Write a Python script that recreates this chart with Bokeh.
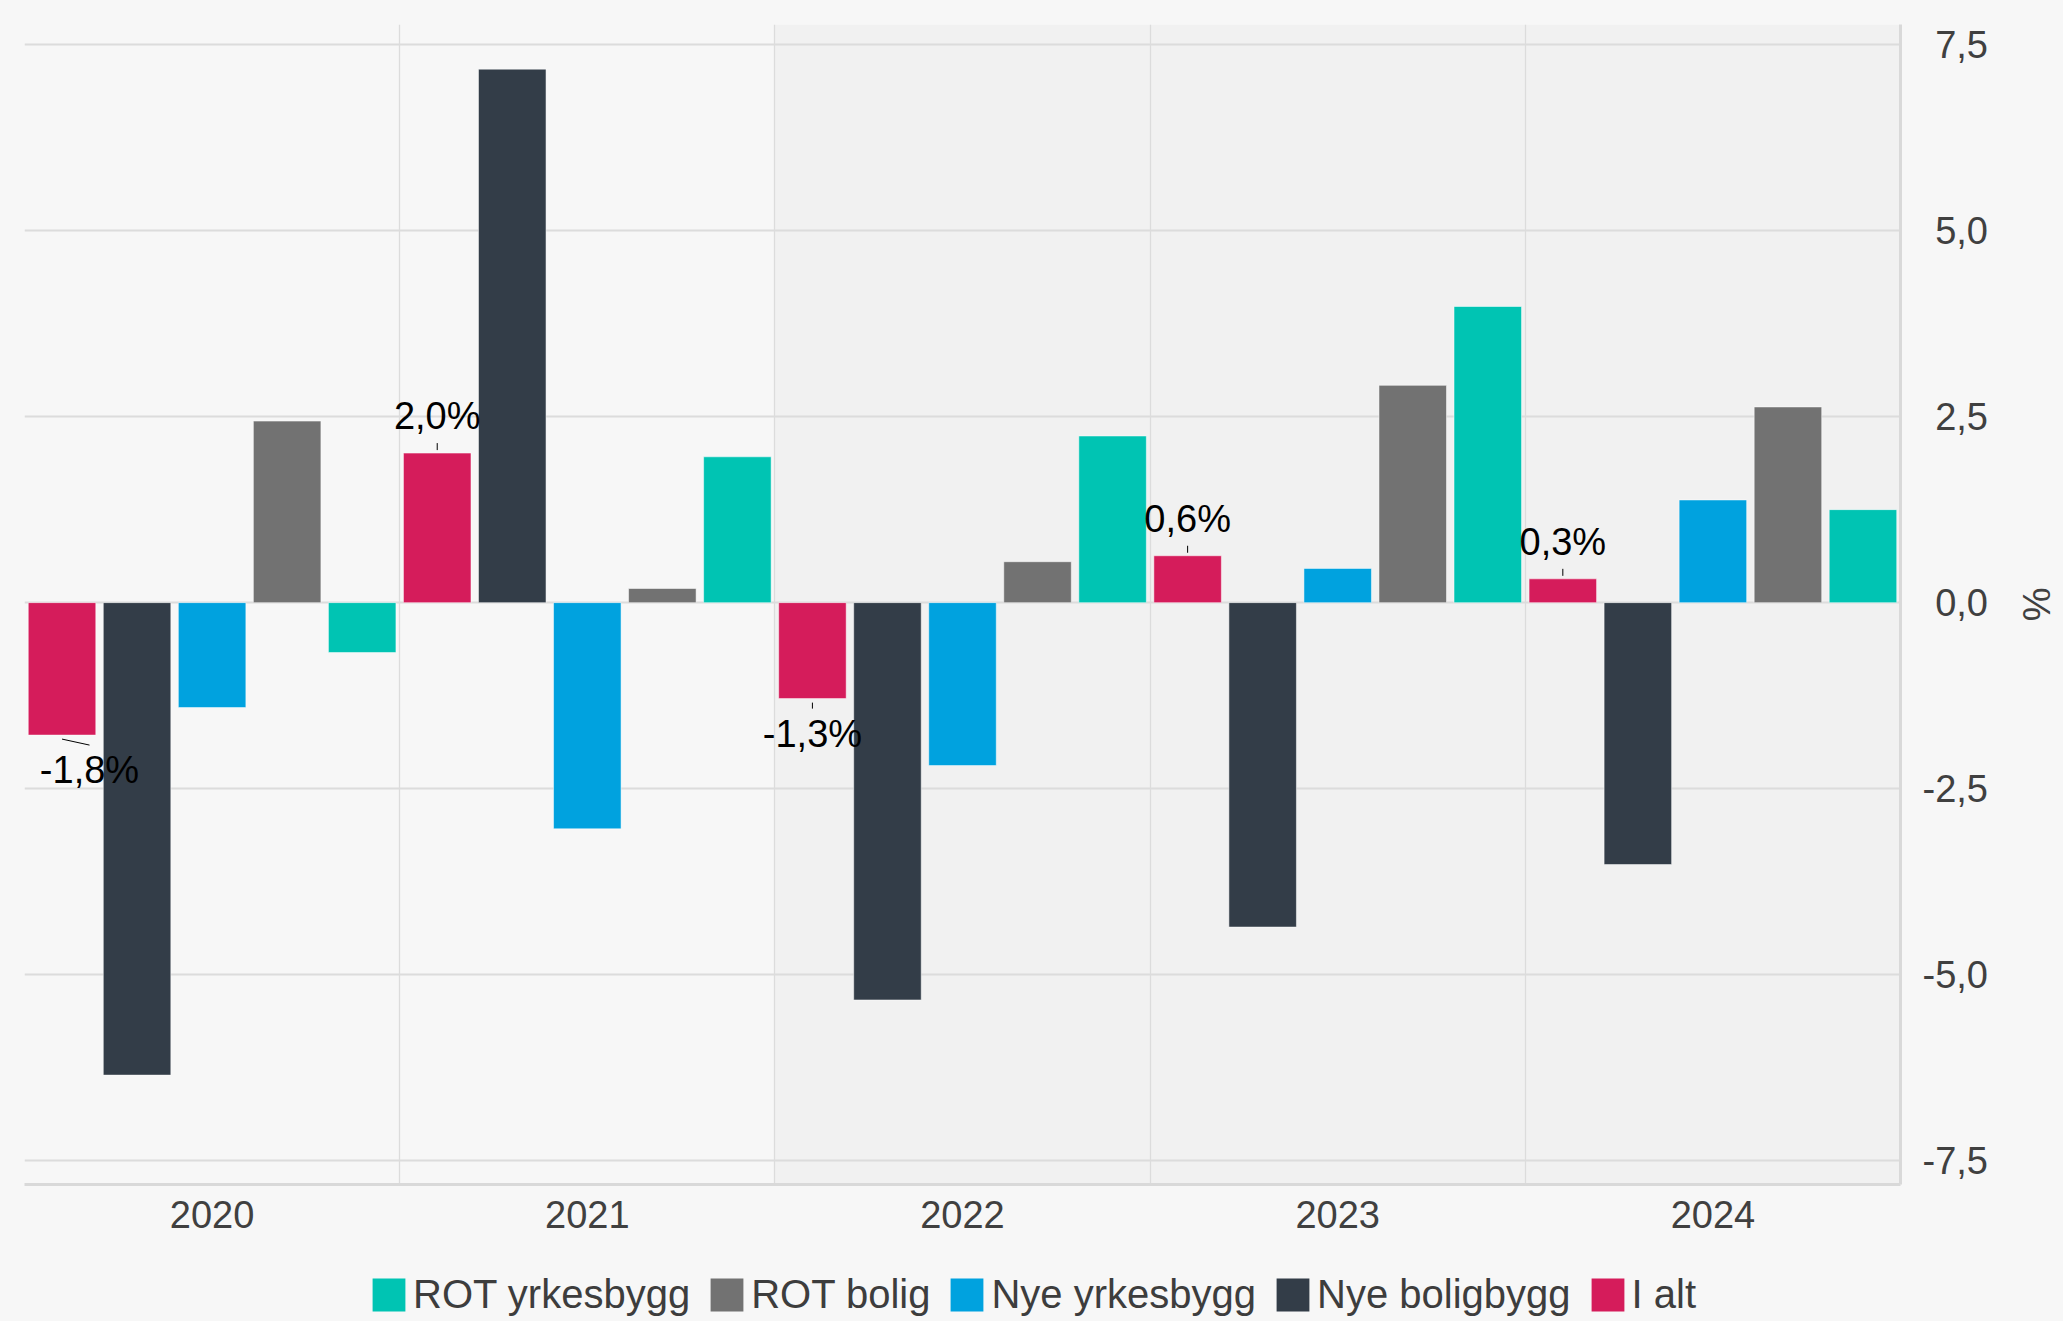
from bokeh.plotting import figure
from bokeh.layouts import column
from bokeh.models import (ColumnDataSource, Range1d, FixedTicker, CustomJSTickFormatter,
                          BoxAnnotation, Legend, LegendItem)
from bokeh.embed import file_html
from bokeh.resources import INLINE
from bokeh.core.properties import value

# ---------------- data ----------------
years = ["2020", "2021", "2022", "2023", "2024"]
# order of bars inside each year
series = ["I alt", "Nye boligbygg", "Nye yrkesbygg", "ROT bolig", "ROT yrkesbygg"]
i_alt = [-1.78, 2.01, -1.29, 0.63, 0.32]
nye_boligbygg = [-6.35, 7.17, -5.34, -4.36, -3.52]
nye_yrkesbygg = [-1.41, -3.04, -2.19, 0.46, 1.38]
rot_bolig = [2.44, 0.19, 0.55, 2.92, 2.63]
rot_yrkesbygg = [-0.67, 1.96, 2.24, 3.98, 1.25]
legend_order = ["ROT yrkesbygg", "ROT bolig", "Nye yrkesbygg", "Nye boligbygg", "I alt"]
y_ticks = [-7.5, -5.0, -2.5, 0.0, 2.5, 5.0, 7.5]
shade_from = "2022"
y_title = "%"

data = {
    "I alt": i_alt,
    "Nye boligbygg": nye_boligbygg,
    "Nye yrkesbygg": nye_yrkesbygg,
    "ROT bolig": rot_bolig,
    "ROT yrkesbygg": rot_yrkesbygg,
}
colors = {
    "ROT yrkesbygg": "#00c4b3",
    "ROT bolig": "#727272",
    "Nye yrkesbygg": "#00a2df",
    "Nye boligbygg": "#333d48",
    "I alt": "#d51c5b",
}

# ---------------- layout ----------------
FONT = "Liberation Sans"
BG = "#f7f7f7"
W = 2063
H1, H2 = 1250, 71
ML, MT, MR, MB = 24, 24, 163, 66
y_lo, y_hi = -7.82, 7.77
frame_w = W - ML - MR
frame_h = H1 - MT - MB
ppx = frame_w / len(years)
ppu = frame_h / (y_hi - y_lo)

p = figure(width=W, height=H1, x_range=Range1d(0, len(years)), y_range=Range1d(y_lo, y_hi),
           y_axis_location="right", output_backend="svg", toolbar_location=None,
           min_border_left=ML, min_border_top=MT, min_border_right=MR, min_border_bottom=MB)
p.background_fill_color = BG
p.border_fill_color = BG
p.outline_line_color = None

# shaded area from 2022 (drawn under the grid)
box = BoxAnnotation(left=years.index(shade_from), right=len(years), fill_color="#f1f1f1",
                    fill_alpha=1.0, line_color=None, level="underlay")
p.add_layout(box)
p.center = [box] + [r for r in p.center if r is not box]

xg = p.xgrid[0]
xg.ticker = FixedTicker(ticks=list(range(len(years) + 1)))
xg.grid_line_color = "#dcdcdc"
xg.grid_line_width = 1.3
yg = p.ygrid[0]
yg.ticker = FixedTicker(ticks=y_ticks)
yg.grid_line_color = "#dcdcdc"
yg.grid_line_width = 2

xa = p.xaxis[0]
xa.ticker = FixedTicker(ticks=[i + 0.5 for i in range(len(years))])
xa.major_label_overrides = {i + 0.5: yr for i, yr in enumerate(years)}
ya = p.yaxis[0]
ya.ticker = FixedTicker(ticks=y_ticks)
ya.formatter = CustomJSTickFormatter(
    code="const s = tick.toFixed(1).replace('.', ','); return tick < 0 ? s : '\\u2004' + s;")
for ax in (xa, ya):
    ax.axis_line_color = "#d9d9d9"
    ax.axis_line_width = 3
    ax.major_tick_line_color = None
    ax.minor_tick_line_color = None
    ax.major_tick_out = 0
    ax.major_tick_in = 0
    ax.major_label_text_font = FONT
    ax.major_label_text_font_size = "38px"
    ax.major_label_text_color = "#404040"
xa.major_label_standoff = 16
ya.major_label_standoff = 22
ya.axis_label = y_title
ya.axis_label_text_font = FONT
ya.axis_label_text_font_size = "38px"
ya.axis_label_text_font_style = "normal"
ya.axis_label_text_color = "#404040"
ya.axis_label_standoff = 24

# ---------------- bars ----------------
n = len(series)
sources = {}
for j, name in enumerate(series):
    xs = [i + (j + 0.5) / n for i in range(len(years))]
    sources[name] = ColumnDataSource(dict(x=xs, top=data[name]))
    p.vbar(x="x", top="top", bottom=0, width=0.9 / n, source=sources[name],
           fill_color=colors[name], line_color="#ffffff", line_width=1, line_alpha=0.5)

# ---------------- data labels for "I alt" ----------------
lx, ly, lt = [], [], []
sx0, sy0, sx1, sy1 = [], [], [], []
k = series.index("I alt")
for i, v in enumerate(i_alt):
    xc = i + (k + 0.5) / n
    shift_px = max(0.0, 15 + 50 - xc * ppx)
    xl = xc + shift_px / ppx
    txt = f"{v:.1f}".replace(".", ",") + "%"
    if v >= 0:
        yl = v + 37 / ppu
        a, b = v + 3 / ppu, v + 10 / ppu
    else:
        yl = v - 35 / ppu
        a, b = v - 4 / ppu, v - 10 / ppu
    lx.append(xl); ly.append(yl); lt.append(txt)
    sx0.append(xc); sy0.append(a); sx1.append(xl if shift_px > 0 else xc); sy1.append(b)

p.segment(x0=sx0, y0=sy0, x1=sx1, y1=sy1, line_color="#000000", line_width=1)
p.text(x=lx, y=ly, text=lt, text_align="center", text_baseline="alphabetic",
       text_font=value(FONT), text_font_size="38px", text_color="#000000")

# ---------------- legend (own strip under the chart) ----------------
# the strip's ranges keep the legend's own bar renderers out of view
pl = figure(width=W, height=H2, output_backend="svg", toolbar_location=None,
            x_range=Range1d(0, len(years)), y_range=Range1d(100, 101),
            x_axis_location=None, y_axis_location=None,
            min_border_left=0, min_border_right=0, min_border_top=0, min_border_bottom=0)
pl.background_fill_color = BG
pl.border_fill_color = BG
pl.outline_line_color = None
pl.xgrid.visible = False
pl.ygrid.visible = False
items = []
for nm in legend_order:
    r = pl.vbar(x="x", top="top", bottom=0, width=0.9 / n, source=sources[nm],
                fill_color=colors[nm], line_color=None)
    items.append(LegendItem(label=nm, renderers=[r]))
legend = Legend(items=items, orientation="horizontal", location=(344, 4),
                glyph_width=41, glyph_height=41, label_height=33, label_standoff=4,
                spacing=16, padding=0, margin=0,
                background_fill_alpha=0, border_line_color=None,
                label_text_font=FONT, label_text_font_size="40px", label_text_color="#3d3d3d")
pl.add_layout(legend)

layout = column(p, pl, spacing=0)
html = file_html(layout, INLINE).replace("<head>", "<head><style>html,body{background:#f7f7f7;}</style>", 1)
open("out.html", "w").write(html)
